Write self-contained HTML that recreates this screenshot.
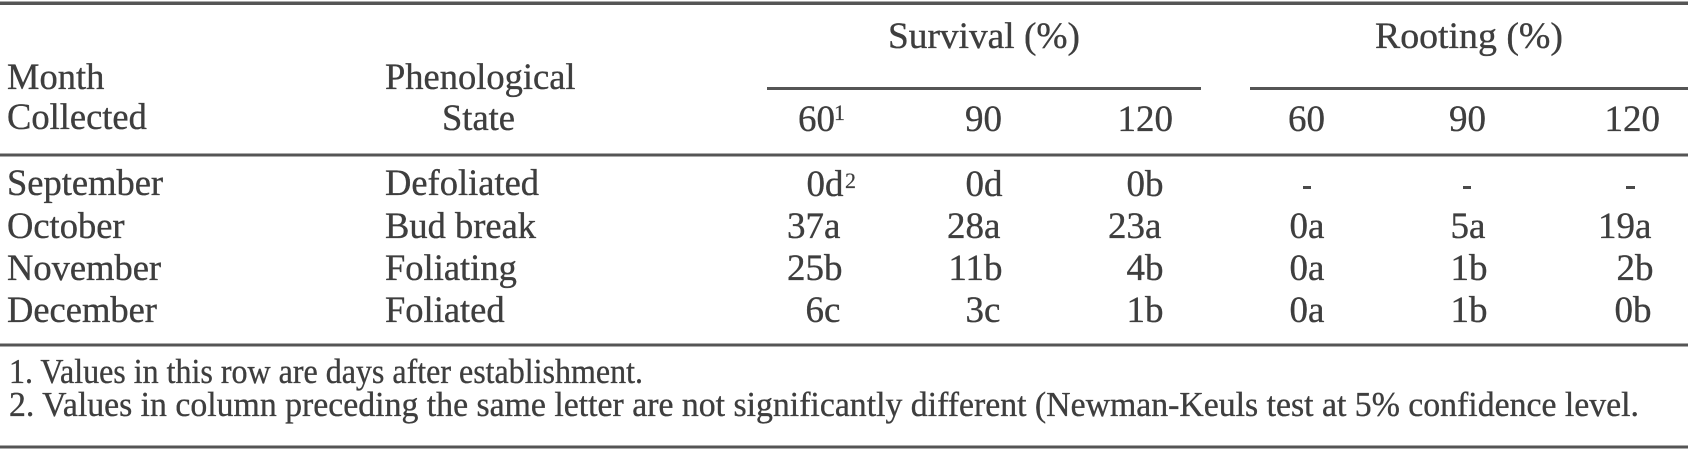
<!DOCTYPE html>
<html>
<head>
<meta charset="utf-8">
<style>
  html, body { margin: 0; padding: 0; background: #ffffff; }
  body { width: 1688px; height: 452px; overflow: hidden; }
  svg { display: block; }
  text { font-family: "Liberation Serif", "Times New Roman", serif; fill: #3e3e3e; stroke: #3e3e3e; stroke-width: 0.35px; }
  .h { font-size: 36.5px; }
  .n { font-size: 37px; }
  .s { font-size: 22px; stroke-width: 0.2px; }
  .f { font-size: 35px; }
</style>
</head>
<body>
<svg width="1688" height="452" viewBox="0 0 1688 452" xmlns="http://www.w3.org/2000/svg">
  <rect x="0" y="0" width="1688" height="452" fill="#ffffff"/>

  <!-- rules -->
  <rect x="0" y="1.5" width="1688" height="3.5" fill="#555555"/>
  <rect x="767" y="87" width="434" height="3" fill="#555555"/>
  <rect x="1250" y="87" width="438" height="3" fill="#555555"/>
  <rect x="0" y="153.5" width="1688" height="3" fill="#555555"/>
  <rect x="0" y="343.5" width="1688" height="3" fill="#555555"/>
  <rect x="0" y="445.5" width="1688" height="3" fill="#555555"/>

  <!-- header -->
  <text class="n" x="888" y="48" textLength="192" lengthAdjust="spacingAndGlyphs">Survival (%)</text>
  <text class="n" x="1375" y="48" textLength="188" lengthAdjust="spacingAndGlyphs">Rooting (%)</text>

  <text class="h" x="7" y="89">Month</text>
  <text class="h" x="7" y="129">Collected</text>
  <text class="h" x="385" y="89">Phenological</text>
  <text class="h" x="442" y="130">State</text>

  <text class="n" x="835" y="131" text-anchor="end">60</text>
  <text class="s" x="834" y="120">1</text>
  <text class="n" x="1002" y="131" text-anchor="end">90</text>
  <text class="n" x="1173" y="131" text-anchor="end">120</text>
  <text class="n" x="1325" y="131" text-anchor="end">60</text>
  <text class="n" x="1486" y="131" text-anchor="end">90</text>
  <text class="n" x="1660" y="131" text-anchor="end">120</text>

  <!-- row 1 -->
  <text class="h" x="7" y="195">September</text>
  <text class="h" x="385" y="195">Defoliated</text>
  <text class="n" x="825" y="196" text-anchor="end">0</text><text class="n" x="825" y="196">d</text>
  <text class="s" x="845" y="188">2</text>
  <text class="n" x="984" y="196" text-anchor="end">0</text><text class="n" x="984" y="196">d</text>
  <text class="n" x="1145" y="196" text-anchor="end">0</text><text class="n" x="1145" y="196">b</text>
  <rect x="1303" y="186" width="8" height="3" fill="#4a4a4a"/>
  <rect x="1463" y="186" width="8" height="3" fill="#4a4a4a"/>
  <rect x="1626" y="186" width="9" height="3" fill="#4a4a4a"/>

  <!-- row 2 -->
  <text class="h" x="7" y="238">October</text>
  <text class="h" x="385" y="238">Bud break</text>
  <text class="n" x="824" y="238" text-anchor="end">37</text><text class="n" x="824" y="238">a</text>
  <text class="n" x="984" y="238" text-anchor="end">28</text><text class="n" x="984" y="238">a</text>
  <text class="n" x="1145" y="238" text-anchor="end">23</text><text class="n" x="1145" y="238">a</text>
  <text class="n" x="1308" y="238" text-anchor="end">0</text><text class="n" x="1308" y="238">a</text>
  <text class="n" x="1469" y="238" text-anchor="end">5</text><text class="n" x="1469" y="238">a</text>
  <text class="n" x="1635" y="238" text-anchor="end">19</text><text class="n" x="1635" y="238">a</text>

  <!-- row 3 -->
  <text class="h" x="7" y="280">November</text>
  <text class="h" x="385" y="280">Foliating</text>
  <text class="n" x="824" y="280" text-anchor="end">25</text><text class="n" x="824" y="280">b</text>
  <text class="n" x="984" y="280" text-anchor="end">11</text><text class="n" x="984" y="280">b</text>
  <text class="n" x="1145" y="280" text-anchor="end">4</text><text class="n" x="1145" y="280">b</text>
  <text class="n" x="1308" y="280" text-anchor="end">0</text><text class="n" x="1308" y="280">a</text>
  <text class="n" x="1469" y="280" text-anchor="end">1</text><text class="n" x="1469" y="280">b</text>
  <text class="n" x="1635" y="280" text-anchor="end">2</text><text class="n" x="1635" y="280">b</text>

  <!-- row 4 -->
  <text class="h" x="7" y="322">December</text>
  <text class="h" x="385" y="322">Foliated</text>
  <text class="n" x="824" y="322" text-anchor="end">6</text><text class="n" x="824" y="322">c</text>
  <text class="n" x="984" y="322" text-anchor="end">3</text><text class="n" x="984" y="322">c</text>
  <text class="n" x="1145" y="322" text-anchor="end">1</text><text class="n" x="1145" y="322">b</text>
  <text class="n" x="1308" y="322" text-anchor="end">0</text><text class="n" x="1308" y="322">a</text>
  <text class="n" x="1469" y="322" text-anchor="end">1</text><text class="n" x="1469" y="322">b</text>
  <text class="n" x="1633" y="322" text-anchor="end">0</text><text class="n" x="1633" y="322">b</text>

  <!-- footnotes -->
  <text class="f" x="9" y="383" textLength="634" lengthAdjust="spacingAndGlyphs">1. Values in this row are days after establishment.</text>
  <text class="f" x="9" y="416" textLength="1630" lengthAdjust="spacingAndGlyphs">2. Values in column preceding the same letter are not significantly different (Newman-Keuls test at 5% confidence level.</text>
</svg>
</body>
</html>
